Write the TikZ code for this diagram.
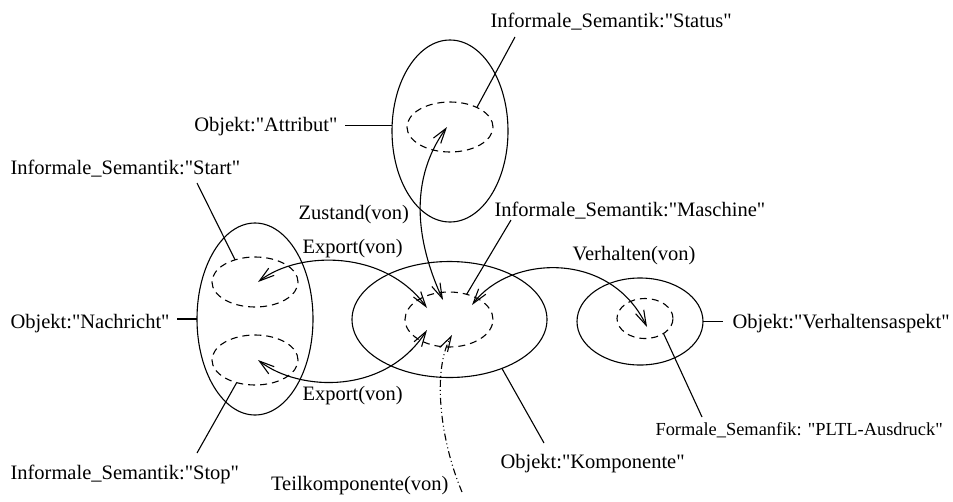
\documentclass[tikz,border=0pt]{standalone}
\usepackage{fontspec}
\setmainfont{Liberation Serif}[Ligatures=TeXOff]
\usetikzlibrary{shapes.geometric,arrows.meta}
\begin{document}
\begin{tikzpicture}[x=1pt,y=-1pt,line width=1.1pt,
  obj/.style={ellipse,draw,inner sep=0pt,outer sep=0pt},
  sem/.style={obj,dash pattern=on 7pt off 5pt},
  lbl/.style={inner sep=0pt,font=\fontsize{20.5}{24}\selectfont},
  small lbl/.style={inner sep=0pt,font=\fontsize{18.4}{22}\selectfont},
  barb/.tip={Straight Barb[length=15pt,width=9pt]},
  rel/.style={barb-barb},
  part/.style={-barb,dash pattern=on 7pt off 3pt on 1pt off 3pt on 1pt off 3pt}]
\useasboundingbox (0,0) rectangle (953,501);

% objects and their inner semantics
\node[obj,minimum width=116pt,minimum height=182pt] (attr) at (450,131) {};
\node[sem,minimum width=86pt,minimum height=50pt] (status) at (450,127) {};
\node[obj,minimum width=116pt,minimum height=192pt] (nach) at (255,319) {};
\node[sem,minimum width=86pt,minimum height=50pt] (start) at (255,282) {};
\node[sem,minimum width=86pt,minimum height=50pt] (stop) at (255,360) {};
\node[obj,minimum width=195pt,minimum height=116pt] (komp) at (449.5,319.5) {};
\node[sem,minimum width=88pt,minimum height=55pt] (masch) at (449,319.5) {};
\node[obj,minimum width=126pt,minimum height=87pt] (verh) at (640,321.5) {};
\node[sem,minimum width=56pt,minimum height=40pt] (pltl) at (645,318.5) {};

% labels
\node[lbl,anchor=base west] (lStatus) at (490,27) {Informale\_Semantik:"Status"};
\node[lbl,anchor=base east] (lAttr) at (338,131) {Objekt:"Attribut"};
\node[lbl,anchor=base west] (lStart) at (10,174) {Informale\_Semantik:"Start"};
\node[lbl,anchor=base west] (lNach) at (10,328) {Objekt:"Nachricht"};
\node[lbl,anchor=base west] (lStop) at (10,479) {Informale\_Semantik:"Stop"};
\node[lbl,anchor=base west] (lZust) at (298,219) {Zustand(von)};
\node[lbl,anchor=base west] (lMasch) at (494,216) {Informale\_Semantik:"Maschine"};
\node[lbl,anchor=base west] (lExp1) at (302,253) {Export(von)};
\node[lbl,anchor=base west] (lExp2) at (302,400) {Export(von)};
\node[lbl,anchor=base west] (lVhv) at (572,260) {Verhalten(von)};
\node[lbl,anchor=base west] (lVerh) at (732,328) {Objekt:"Verhaltensaspekt"};
\node[small lbl,anchor=base west] (lPltl) at (655,435) {Formale\_Semanfik: "PLTL-Ausdruck"};
\node[lbl,anchor=base west] (lKomp) at (500,468) {Objekt:"Komponente"};
\node[lbl,anchor=base east] (lTeil) at (449,490) {Teilkomponente(von)};

% free ends of the label lines
\coordinate (eStatus) at (515,37);
\coordinate (eStart) at (197,183);
\coordinate (eStop) at (197,453);
\coordinate (eMasch) at (511,220);
\coordinate (eKomp) at (544,443);
\coordinate (ePltl) at (702,417);
\coordinate (eTeil) at (462,492);

\draw (status.36.5) -- (eStatus);
\draw (attr.175) -- ++(-47,0);
\draw (start.132.5) -- (eStart);
\draw (stop.231) -- (eStop);
\draw (nach.west) -- ++(-20,0);
\draw (masch.55) -- (eMasch);
\draw (komp.-43.4) -- (eKomp);
\draw (verh.east) -- ++(20,0);
\draw (pltl.-39.5) -- (ePltl);

% arrow tips inside the inner semantics
\coordinate (tStatus) at (447,127);
\coordinate (tStart) at (258,282);
\coordinate (tStop) at (258,360);
\coordinate (tZust) at (443,300);
\coordinate (tExp1) at (427,308);
\coordinate (tExp2) at (427,330);
\coordinate (tVhv) at (472,305);
\coordinate (tTeil) at (452,335);
\coordinate (tPltl) at (647,327);

% relations
\draw[rel] (tStatus) .. controls (405,185) and (420,250) .. (tZust);
\draw[rel] (tStart) .. controls (300,250) and (385,250) .. (tExp1);
\draw[rel] (tStop) .. controls (300,392) and (385,395) .. (tExp2);
\draw[rel] (tVhv) .. controls (510,255) and (610,250) .. (tPltl);
\draw[part] (eTeil) .. controls (440,440) and (432,370) .. (tTeil);
\end{tikzpicture}
\end{document}
